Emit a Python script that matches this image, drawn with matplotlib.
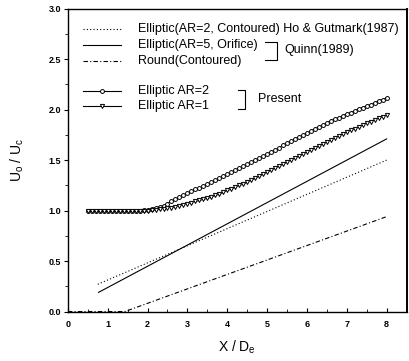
import numpy as np
import matplotlib
matplotlib.use('Agg')
import matplotlib.pyplot as plt
from matplotlib.ticker import MultipleLocator

plt.rcParams['font.family'] = ['Liberation Sans', 'DejaVu Sans']

# ---- data ----
# Ho & Gutmark (1987), elliptic AR=2 contoured (dotted)
ho_x = [0.75, 8.0]
ho_y = [0.27, 1.50]
# Quinn (1989), elliptic AR=5 orifice (solid)
qe_x = [0.77, 8.0]
qe_y = [0.19, 1.71]
# Quinn (1989), round contoured (dash-dot)
qr_x = [0.0, 1.43, 8.0]
qr_y = [0.0, 0.0, 0.94]

# present data, sampled every 0.1 X/De from 0.5 to 8.0
present_x = np.round(np.arange(0.5, 8.01, 0.1), 2)
ar2_y = [1.00, 1.00, 1.00, 1.00, 1.00, 1.00, 1.00, 1.00, 1.00, 1.00,
         1.00, 1.00, 1.00, 1.00, 1.01, 1.01, 1.02, 1.03, 1.04, 1.05,
         1.07, 1.09, 1.11, 1.13, 1.15, 1.17, 1.19, 1.21, 1.22, 1.24,
         1.26, 1.28, 1.30, 1.32, 1.34, 1.36, 1.38, 1.40, 1.42, 1.44,
         1.46, 1.48, 1.50, 1.52, 1.54, 1.56, 1.58, 1.60, 1.62, 1.65,
         1.67, 1.69, 1.71, 1.73, 1.75, 1.77, 1.79, 1.81, 1.83, 1.85,
         1.87, 1.89, 1.91, 1.92, 1.94, 1.96, 1.97, 1.99, 2.01, 2.02,
         2.04, 2.05, 2.07, 2.09, 2.10, 2.12]
ar1_y = [1.00, 1.00, 1.00, 1.00, 1.00, 1.00, 1.00, 1.00, 1.00, 1.00,
         1.00, 1.00, 1.00, 1.00, 1.00, 1.00, 1.01, 1.01, 1.02, 1.02,
         1.03, 1.03, 1.04, 1.05, 1.06, 1.07, 1.08, 1.09, 1.10, 1.11,
         1.12, 1.13, 1.15, 1.16, 1.18, 1.20, 1.21, 1.23, 1.25, 1.26,
         1.28, 1.30, 1.32, 1.34, 1.36, 1.38, 1.40, 1.42, 1.44, 1.46,
         1.48, 1.50, 1.52, 1.54, 1.56, 1.58, 1.60, 1.62, 1.64, 1.66,
         1.68, 1.70, 1.72, 1.74, 1.76, 1.78, 1.80, 1.81, 1.83, 1.85,
         1.87, 1.88, 1.90, 1.92, 1.93, 1.95]

xticks = [0, 1, 2, 3, 4, 5, 6, 7, 8]
yticks = [0.0, 0.5, 1.0, 1.5, 2.0, 2.5, 3.0]

# ---- figure ----
fig = plt.figure(figsize=(4.09, 3.61), dpi=100)
ax = fig.add_axes([0.166, 0.137, 0.828, 0.839])

ax.plot(ho_x, ho_y, color='k', lw=0.8, linestyle=(0, (1, 2)))
ax.plot(qe_x, qe_y, color='k', lw=0.8, linestyle='-')
ax.plot(qr_x, qr_y, color='k', lw=0.8, linestyle=(0, (4, 2, 1, 2)))
ax.plot(present_x, ar2_y, color='k', lw=0.6, marker='o', ms=2.8,
        mfc='white', mec='k', mew=0.7)
ax.plot(present_x, ar1_y, color='k', lw=0.6, marker='v', ms=3.0,
        mfc='white', mec='k', mew=0.7)

ax.set_xlim(0, 8.5)
ax.set_ylim(0, 3.0)
ax.set_xticks(xticks)
ax.set_yticks(yticks)
ax.set_yticklabels(['%.1f' % v for v in yticks])
ax.xaxis.set_minor_locator(MultipleLocator(0.5))
ax.yaxis.set_minor_locator(MultipleLocator(0.25))
ax.tick_params(axis='x', which='both', direction='in', top=False, labelsize=6.5, pad=6)
ax.tick_params(axis='y', which='both', direction='out', labelsize=6.5, pad=2)
ax.tick_params(which='major', length=3, width=0.8)
ax.tick_params(which='minor', length=2, width=0.6)
for lab in ax.get_xticklabels() + ax.get_yticklabels():
    lab.set_fontweight('bold')
for s in ax.spines.values():
    s.set_linewidth(1.0)
ax.spines['right'].set_linewidth(1.4)

ax.set_xlabel('X / D$_\\mathregular{e}$', fontsize=10, labelpad=7)
ax.set_ylabel('U$_\\mathregular{o}$ / U$_\\mathregular{c}$', fontsize=10, labelpad=16)

# ---- hand-drawn legend (axes coordinates) ----
tr = ax.transAxes
lx0, lx1, tx = 0.044, 0.156, 0.207
rows = [0.933, 0.879, 0.828, 0.727, 0.677]
labels = ['Elliptic(AR=2, Contoured) Ho & Gutmark(1987)',
          'Elliptic(AR=5, Orifice)',
          'Round(Contoured)',
          'Elliptic AR=2',
          'Elliptic AR=1']
styles = [dict(linestyle=(0, (1, 2))), dict(linestyle='-'),
          dict(linestyle=(0, (4, 2, 1, 2))),
          dict(linestyle='-', marker='o', markevery=[1], ms=2.8, mfc='white', mew=0.7),
          dict(linestyle='-', marker='v', markevery=[1], ms=3.0, mfc='white', mew=0.7)]
tkw = dict(transform=tr, fontsize=9, va='center', ha='left')
for yy, lab, st in zip(rows, labels, styles):
    ax.plot([lx0, (lx0 + lx1) / 2, lx1], [yy, yy, yy], color='k', lw=0.8,
            transform=tr, clip_on=False, **st)
    ax.text(tx, yy, lab, **tkw)

# brackets
ax.plot([0.582, 0.617, 0.617, 0.582], [0.890, 0.890, 0.831, 0.831],
        color='k', lw=0.8, transform=tr)
ax.text(0.638, 0.862, 'Quinn(1989)', **tkw)
ax.plot([0.502, 0.523, 0.523, 0.502], [0.732, 0.732, 0.669, 0.669],
        color='k', lw=0.8, transform=tr)
ax.text(0.561, 0.702, 'Present', **tkw)

fig.savefig('out.png', dpi=100)
